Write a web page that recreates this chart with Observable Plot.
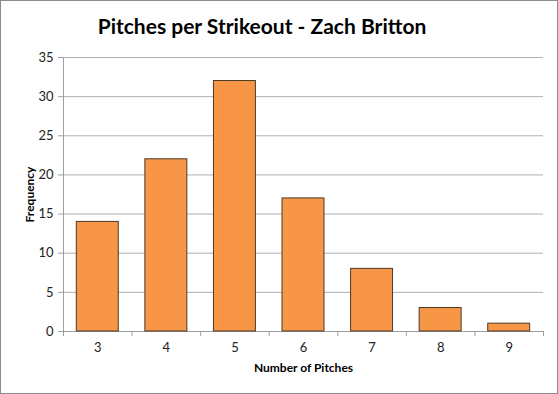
<!DOCTYPE html>
<html><head><meta charset="utf-8">
<script src="https://cdn.jsdelivr.net/npm/d3@7"></script>
<script src="https://cdn.jsdelivr.net/npm/@observablehq/plot@0.6"></script>
<style>
html,body{margin:0;padding:0;background:#fff;}
#wrap{width:556px;height:392px;border:1px solid #8c8c8c;position:relative;overflow:hidden;font-family:Lato,"Open Sans",sans-serif;}
#title{height:45px;line-height:50px;text-align:center;font-weight:bold;font-size:21px;color:#000;position:relative;left:-17px;}
</style></head>
<body><div id="wrap"><div id="title">Pitches per Strikeout - Zach Britton</div><div id="chart"></div></div>
<script>
const pitches = [3, 4, 5, 6, 7, 8, 9];
const frequency = [14, 22, 32, 17, 8, 3, 1];
const yTicks = [0, 5, 10, 15, 20, 25, 30, 35];
const data = pitches.map((p, i) => ({p, f: frequency[i]}));
const boundaries = [...pitches.map(p => p - 0.5), pitches[pitches.length - 1] + 0.5];
const half = 0.306;

const chart = Plot.plot({
  width: 556, height: 347,
  marginTop: 11, marginBottom: 62, marginLeft: 62, marginRight: 14,
  style: {fontFamily: "Lato, 'Open Sans', sans-serif", fontSize: "13px", color: "#222", background: "#fff"},
  x: {domain: [2.5, 9.5]},
  y: {domain: [0, 35]},
  marks: [
    Plot.gridY(yTicks, {stroke: "#b0b0b0", strokeOpacity: 1}),
    Plot.ruleX([2.5], {stroke: "#a0a0a0"}),
    Plot.ruleY([0], {stroke: "#a0a0a0"}),
    Plot.axisY(yTicks, {tickSize: 5, tickPadding: 5, stroke: "#a0a0a0", label: null, fill: "#222", fontSize: 13}),
    Plot.axisX(boundaries, {tickSize: 5, tickFormat: () => "", stroke: "#a0a0a0", label: null}),
    Plot.axisX(pitches, {tickSize: 0, tickPadding: 11, tickFormat: d => String(d), label: null, fill: "#222", fontSize: 13}),
    Plot.rectY(data, {x1: d => d.p - half, x2: d => d.p + half, y: "f", fill: "#F79646", stroke: "#4a3a2a", strokeWidth: 1}),
    Plot.text(["Number of Pitches"], {frameAnchor: "bottom", dy: 40, fontWeight: "bold", fontSize: 12, fill: "#000"}),
    Plot.text(["Frequency"], {frameAnchor: "left", dx: -33, rotate: -90, textAnchor: "middle", fontWeight: "bold", fontSize: 12, fill: "#000"})
  ]
});
document.getElementById("chart").appendChild(chart);
</script>
</body></html>
